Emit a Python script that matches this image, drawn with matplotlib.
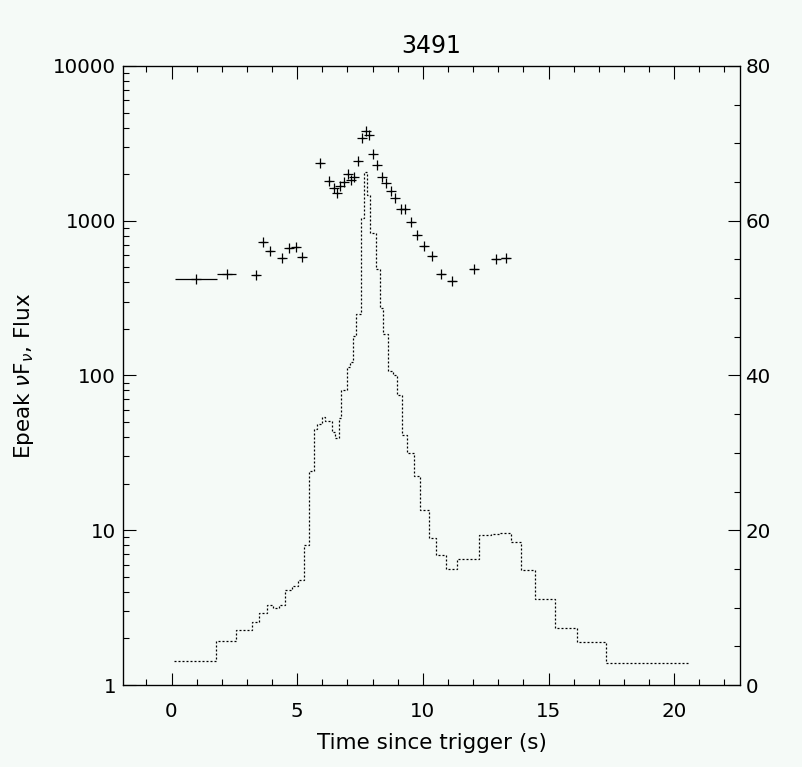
import numpy as np
import matplotlib
matplotlib.use("Agg")
import matplotlib.pyplot as plt
from matplotlib.ticker import LogLocator, MultipleLocator, NullFormatter

# Epeak points (left log axis)
epeak_t = [0.96, 2.20, 3.35, 3.65, 3.92, 4.41, 4.68, 4.94, 5.18, 5.91,
           6.26, 6.45, 6.59, 6.71, 6.86, 7.02, 7.15, 7.27, 7.43, 7.59,
           7.73, 7.87, 8.03, 8.19, 8.38, 8.54, 8.72, 8.91, 9.13, 9.29,
           9.53, 9.77, 10.06, 10.38, 10.74, 11.15, 12.05, 12.90, 13.30]
epeak_terr = [0.84, 0.38, 0.12, 0.12, 0.12, 0.12, 0.12, 0.12, 0.12, 0.10,
              0.08, 0.06, 0.06, 0.06, 0.06, 0.06, 0.06, 0.06, 0.06, 0.06,
              0.06, 0.06, 0.06, 0.06, 0.06, 0.06, 0.06, 0.06, 0.08, 0.08,
              0.10, 0.10, 0.12, 0.12, 0.14, 0.16, 0.16, 0.16, 0.18]
epeak_val = [419, 451, 444, 729, 640, 577, 664, 673, 580, 2350,
             1806, 1621, 1505, 1686, 1787, 1995, 1834, 1927, 2443, 3410,
             3800, 3566, 2700, 2291, 1909, 1746, 1564, 1409, 1186, 1186,
             977, 809, 690, 592, 451, 408, 490, 564, 577]

# flux light curve (right linear axis), bin edges and levels
flux_edges = [0.10, 1.78, 2.55, 3.19, 3.49, 3.79, 4.03, 4.28, 4.53, 4.78,
              5.03, 5.28, 5.48, 5.68, 5.80, 6.00, 6.12, 6.40, 6.52, 6.67,
              6.75, 6.97, 7.10, 7.23, 7.35, 7.55, 7.67, 7.79, 7.91, 8.13,
              8.31, 8.43, 8.63, 8.83, 8.99, 9.18, 9.38, 9.66, 9.90, 10.23,
              10.54, 10.94, 11.37, 12.25, 12.70, 13.07, 13.49, 13.92, 14.48, 15.27,
              16.15, 17.30, 20.63]
flux_val = [3.06, 5.65, 7.07, 8.10, 9.34, 10.30, 9.91, 10.30, 12.24, 12.79,
            13.53, 18.05, 27.66, 33.05, 33.73, 34.60, 34.08, 32.74, 31.88, 34.47,
            38.13, 41.06, 41.74, 45.10, 47.95, 60.32, 66.26, 63.33, 58.38, 53.73,
            48.68, 45.32, 40.62, 40.06, 37.48, 32.31, 29.95, 27.01, 22.62, 19.00,
            16.80, 14.99, 16.25, 19.35, 19.48, 19.61, 18.44, 14.82, 11.08, 7.33,
            5.52, 2.80]

bg = "#f5faf7"
plt.rcParams["font.family"] = "DejaVu Sans"
plt.rcParams["mathtext.fontset"] = "dejavusans"

fig = plt.figure(figsize=(8.02, 7.67), dpi=100, facecolor=bg)
ax = fig.add_axes([0.1534, 0.1069, 0.7693, 0.8071], facecolor=bg)

ax.errorbar(epeak_t, epeak_val, xerr=epeak_terr, fmt="+", color="black",
            ms=7, mew=0.9, elinewidth=0.9, capsize=0)
ax.set_yscale("log")
ax.set_ylim(1, 10000)
ax.set_xlim(-1.93, 22.62)

ax.set_yticks([1, 10, 100, 1000, 10000])
ax.set_yticklabels(["1", "10", "100", "1000", "10000"])
ax.yaxis.set_minor_locator(LogLocator(base=10, subs=np.arange(2, 10), numticks=10))
ax.yaxis.set_minor_formatter(NullFormatter())
ax.xaxis.set_major_locator(MultipleLocator(5))
ax.xaxis.set_minor_locator(MultipleLocator(1))

ax.tick_params(which="both", direction="in", top=True, right=False, color="black", width=0.8)
ax.tick_params(which="major", length=9)
ax.tick_params(which="minor", length=4.5)
ax.tick_params(axis="x", which="major", pad=12, labelsize=14.3)
ax.tick_params(axis="y", which="major", pad=5, labelsize=14.3)

ax.set_xlabel("Time since trigger (s)", fontsize=15.5, labelpad=9)
ax.set_ylabel(r"Epeak $\nu$F$_\nu$, Flux", fontsize=15.5, labelpad=12)
ax.set_title("3491", fontsize=17, pad=9)

for s in ax.spines.values():
    s.set_linewidth(0.9)

ax2 = ax.twinx()
ax2.stairs(flux_val, flux_edges, color="black", linewidth=0.9,
           linestyle=(0, (1.6, 1.6)), baseline=None)
ax2.set_ylim(0, 80)
ax2.yaxis.set_major_locator(MultipleLocator(20))
ax2.yaxis.set_minor_locator(MultipleLocator(5))
ax2.tick_params(which="both", direction="in", color="black", width=0.8)
ax2.tick_params(which="major", length=9, pad=4, labelsize=14.3)
ax2.tick_params(which="minor", length=4.5)

fig.savefig("out.png", dpi=100, facecolor=bg)
